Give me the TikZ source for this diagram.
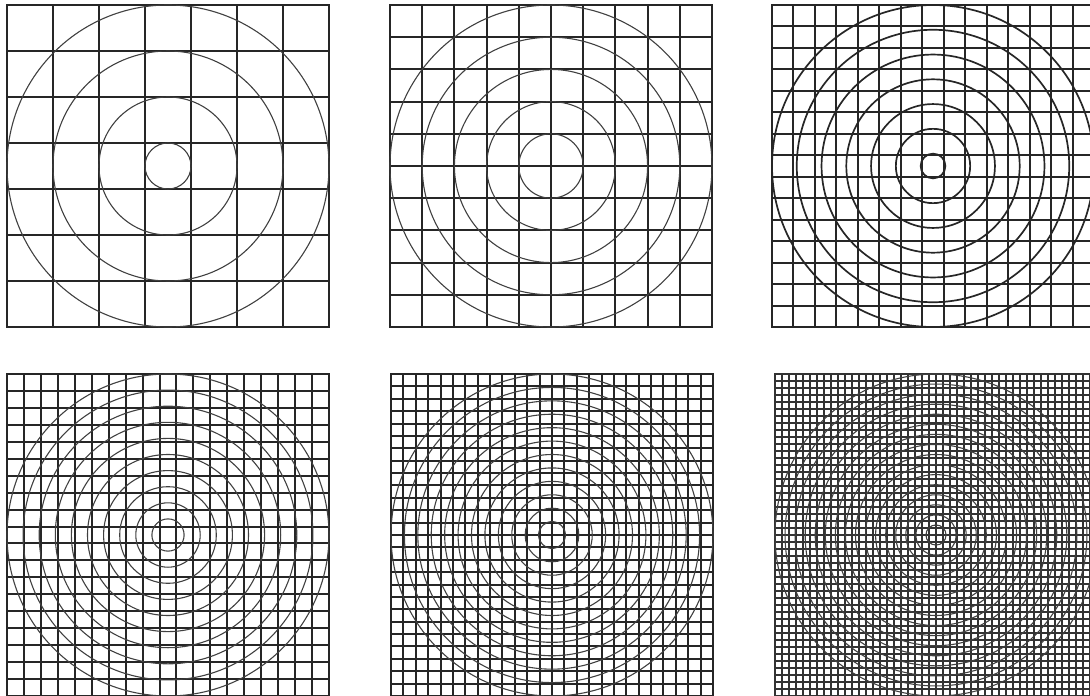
\documentclass[tikz,border=0pt]{standalone}
\begin{document}
\begin{tikzpicture}[
		x=1pt, y=-1pt,
		g/.style = {line width=2pt, black!85, line cap=rect},
		gf/.style = {line width=1.5pt, black!80, line cap=rect},
		c/.style = {line width=1.1pt, black!75},
		ct/.style = {line width=1.7pt, black!85}
		]
		
		\useasboundingbox (0,0) rectangle (1090,696);
		
		% 7 x 7
		\begin{scope}[shift={(7,5)}]
			\foreach \i in {0,...,7} {
				\draw[g]	(\i*322/7, 0)	--	(\i*322/7, 322);
				\draw[g]	(0, \i*322/7)	--	(322, \i*322/7);
			}
			\foreach \r in {23, 69, 115, 161}
				\draw[c]	(161, 161)	circle	(\r);
		\end{scope}
		
		% 10 x 10
		\begin{scope}[shift={(390,5)}]
			\foreach \i in {0,...,10} {
				\draw[g]	(\i*32.2, 0)	--	(\i*32.2, 322);
				\draw[g]	(0, \i*32.2)	--	(322, \i*32.2);
			}
			\foreach \k in {1,...,5}
				\draw[c]	(161, 161)	circle	(\k*32.2);
		\end{scope}
		
		% 15 x 15
		\begin{scope}[shift={(772,5)}]
			\foreach \i in {0,...,15} {
				\draw[g]	(\i*322/15, 0)	--	(\i*322/15, 322);
				\draw[g]	(0, \i*322/15)	--	(322, \i*322/15);
			}
			\foreach \k in {0,...,6}
				\draw[ct]	(161, 161)	circle	({(\k+0.5)*161/6.5});
		\end{scope}
		
		% 19 x 19
		\begin{scope}[shift={(7,374)}]
			\foreach \i in {0,...,19} {
				\draw[g]	(\i*322/19, 0)	--	(\i*322/19, 322);
				\draw[g]	(0, \i*322/19)	--	(322, \i*322/19);
			}
			\foreach \k in {1,...,10}
				\draw[c]	(161, 161)	circle	(\k*16.1);
		\end{scope}
		
		% 26 x 26
		\begin{scope}[shift={(391,374)}]
			\foreach \i in {0,...,26} {
				\draw[g]	(\i*322/26, 0)	--	(\i*322/26, 322);
				\draw[g]	(0, \i*322/26)	--	(322, \i*322/26);
			}
			\foreach \k in {1,...,12}
				\draw[c]	(161, 161)	circle	(\k*161/12);
		\end{scope}
		
		% 46 x 46
		\begin{scope}[shift={(775,374)}]
			\foreach \i in {0,...,46} {
				\draw[gf]	(\i*322/46, 0)	--	(\i*322/46, 322);
				\draw[gf]	(0, \i*322/46)	--	(322, \i*322/46);
			}
			\foreach \k in {1,...,16}
				\draw[c]	(161, 161)	circle	(\k*161/16);
		\end{scope}
\end{tikzpicture}
\end{document}
